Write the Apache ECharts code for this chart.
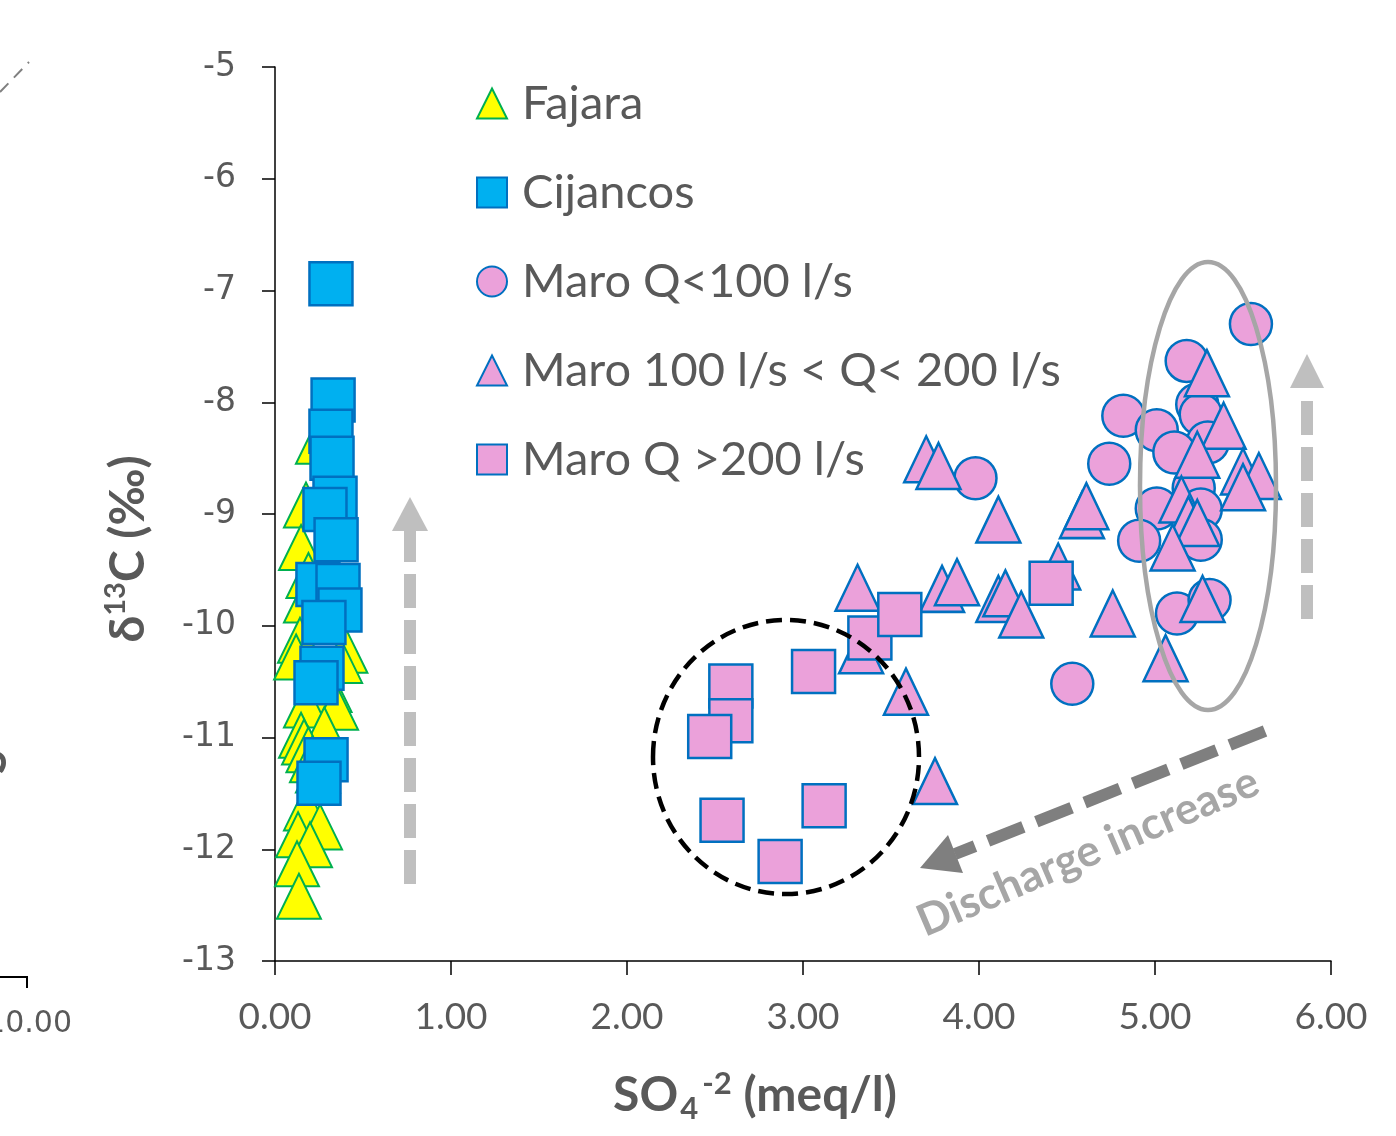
<!DOCTYPE html>
<html><head><meta charset="utf-8">
<script src="https://cdn.jsdelivr.net/npm/echarts/dist/echarts.min.js"></script>
<style>html,body{margin:0;padding:0;background:#fff}#c{width:1396px;height:1136px}</style>
</head><body><div id="c"></div>
<script>
// ---- data ----
const xTickLabels = ['0.00','1.00','2.00','3.00','4.00','5.00','6.00'];
const yTickLabels = ['-13','-12','-11','-10','-9','-8','-7','-6','-5'];

const fajaraX = [0.244,0.176,0.148,0.19,0.176,0.32,0.142,0.40,0.12,0.37,0.31,0.176,0.347,0.28,0.148,0.165,0.19,0.21,0.244,0.176,0.256,0.131,0.199,0.125,0.136];
const fajaraY = [-8.35,-8.92,-9.30,-9.55,-9.77,-9.77,-10.13,-10.22,-10.28,-10.31,-10.57,-10.71,-10.73,-10.93,-10.98,-11.04,-11.11,-11.20,-11.29,-11.63,-11.80,-11.87,-11.96,-12.13,-12.42];

const cijancosX = [0.318,0.330,0.318,0.324,0.341,0.284,0.347,0.244,0.358,0.369,0.278,0.267,0.233,0.290,0.250];
const cijancosY = [-6.94,-7.98,-8.26,-8.50,-8.86,-8.96,-9.23,-9.63,-9.64,-9.86,-9.97,-10.38,-10.51,-11.20,-11.41];

const maroLowX = [5.545,5.18,5.24,5.26,4.82,5.01,5.30,5.11,4.74,3.98,5.22,5.01,5.26,4.91,5.26,5.125,5.31,4.53];
const maroLowY = [-7.30,-7.63,-8.02,-8.11,-8.12,-8.25,-8.36,-8.45,-8.55,-8.68,-8.77,-8.95,-8.96,-9.24,-9.23,-9.89,-9.77,-10.52];

const maroMidX = [3.70,3.77,4.11,4.585,4.61,3.31,3.79,3.875,4.11,4.15,4.24,4.45,4.76,3.33,3.585,3.75,5.06,5.295,5.39,5.24,5.50,5.59,5.50,5.15,5.19,5.24,5.10,5.27];
const maroMidY = [-8.51,-8.57,-9.05,-9.01,-8.93,-9.66,-9.67,-9.61,-9.76,-9.71,-9.90,-9.47,-9.89,-10.22,-10.59,-11.39,-10.29,-7.74,-8.21,-8.47,-8.62,-8.66,-8.76,-8.87,-9.05,-9.08,-9.30,-9.76];

const maroHighX = [2.59,2.59,2.47,3.06,2.54,3.12,2.87,3.38,3.55,4.41];
const maroHighY = [-10.54,-10.85,-10.99,-10.41,-11.74,-11.61,-12.11,-10.11,-9.90,-9.62];

const seriesNames = ['Fajara','Cijancos','Maro Q<100 l/s','Maro 100 l/s < Q< 200 l/s','Maro Q >200 l/s'];

// ---- build ----
const zip = (xs, ys) => xs.map((x, i) => [x, ys[i]]);
const pink = '#EBA1DA', blueEdge = '#0070C0';
const chart = echarts.init(document.getElementById('c'), null, {renderer: 'canvas'});
const sans = 'Lato';

const option = {
  backgroundColor: '#ffffff',
  animation: false,
  grid: {left: 275, right: 65, top: 67, bottom: 175, containLabel: false, outerBoundsMode: 'none'},
  legend: {
    orient: 'vertical', left: 471, top: 75, itemWidth: 30, itemHeight: 30, itemGap: 42,
    selectedMode: false, data: seriesNames,
    textStyle: {fontFamily: sans, fontSize: 47, color: '#595959', lineHeight: 46, padding: [0,0,0,10]}
  },
  xAxis: {
    type: 'value', min: 0, max: 6, interval: 1,
    axisLine: {show: true, onZero: false, lineStyle: {color: '#000', width: 1.5}},
    axisTick: {show: true, length: 14, lineStyle: {color: '#000', width: 1.5}},
    axisLabel: {margin: 38, fontFamily: sans, fontSize: 37, color: '#595959',
      formatter: v => xTickLabels[Math.round(v)]},
    splitLine: {show: false}
  },
  yAxis: {
    type: 'value', min: -13, max: -5, interval: 1,
    axisLine: {show: true, onZero: false, lineStyle: {color: '#000', width: 1.5}},
    axisTick: {show: true, length: 13, lineStyle: {color: '#000', width: 1.5}},
    axisLabel: {margin: 39, fontFamily: 'DejaVu Sans', fontSize: 33, color: '#595959',
      formatter: v => yTickLabels[Math.round(v + 13)]},
    splitLine: {show: false}
  },
  series: [
    {name: seriesNames[0], type: 'scatter', symbol: 'triangle', symbolSize: [44, 45],
      data: zip(fajaraX, fajaraY), itemStyle: {color: '#FFFF00', borderColor: '#00B050', borderWidth: 2, opacity: 1}},
    {name: seriesNames[1], type: 'scatter', symbol: 'rect', symbolSize: 43,
      data: zip(cijancosX, cijancosY), itemStyle: {color: '#00B0F0', borderColor: blueEdge, borderWidth: 2.5, opacity: 1}},
    {name: seriesNames[2], type: 'scatter', symbol: 'circle', symbolSize: 42,
      data: zip(maroLowX, maroLowY), itemStyle: {color: pink, borderColor: blueEdge, borderWidth: 2.5, opacity: 1}},
    {name: seriesNames[3], type: 'scatter', symbol: 'triangle', symbolSize: [44, 46],
      data: zip(maroMidX, maroMidY), itemStyle: {color: pink, borderColor: blueEdge, borderWidth: 2.5, opacity: 1}},
    {name: seriesNames[4], type: 'scatter', symbol: 'rect', symbolSize: 43,
      data: zip(maroHighX, maroHighY), itemStyle: {color: pink, borderColor: blueEdge, borderWidth: 2.5, opacity: 1}}
  ],
  graphic: [
    // black dashed circle
    {type: 'ellipse', z: 100, shape: {cx: 786, cy: 757, rx: 133, ry: 137},
      style: {fill: 'none', stroke: '#000', lineWidth: 4.5, lineDash: [16, 8]}},
    // gray ellipse
    {type: 'ellipse', z: 100, shape: {cx: 1208, cy: 486, rx: 68, ry: 224},
      style: {fill: 'none', stroke: '#A6A6A6', lineWidth: 4.5}},
    // left vertical arrow
    {type: 'line', z: 100, shape: {x1: 410, y1: 884, x2: 410, y2: 530},
      style: {stroke: '#BFBFBF', lineWidth: 12, lineDash: [34, 12]}},
    {type: 'polygon', z: 100, shape: {points: [[410, 497], [392, 531], [428, 531]]}, style: {fill: '#BFBFBF'}},
    // right vertical arrow
    {type: 'line', z: 100, shape: {x1: 1307, y1: 619, x2: 1307, y2: 389},
      style: {stroke: '#BFBFBF', lineWidth: 12, lineDash: [34, 12]}},
    {type: 'polygon', z: 100, shape: {points: [[1307, 354], [1290, 388], [1324, 388]]}, style: {fill: '#BFBFBF'}},
    // discharge arrow
    {type: 'line', z: 100, shape: {x1: 1265, y1: 731, x2: 955, y2: 854},
      style: {stroke: '#7F7F7F', lineWidth: 12, lineDash: [38, 14]}},
    {type: 'polygon', z: 100, shape: {points: [[920, 868], [963, 873], [948, 835]]}, style: {fill: '#7F7F7F'}},
    {type: 'text', z: 100, x: 1088, y: 852, rotation: 0.405,
      style: {text: 'Discharge increase', fontFamily: sans, fontWeight: 'bold', fontSize: 44, fill: '#A6A6A6', align: 'center', verticalAlign: 'middle'}},
    // axis titles
    {type: 'text', z: 100, x: 755, y: 1096,
      style: {text: '{a|SO}{sub|4}{sup|-2}{a| (meq/l)}', align: 'center', verticalAlign: 'middle', fill: '#595959',
        rich: {
          a: {fontFamily: sans, fontWeight: 'bold', fontSize: 48, lineHeight: 56, fill: '#595959'},
          sub: {fontFamily: sans, fontWeight: 'bold', fontSize: 31, lineHeight: 31, verticalAlign: 'bottom', fill: '#595959', padding: [0, 4, 0, 2]},
          sup: {fontFamily: sans, fontWeight: 'bold', fontSize: 31, lineHeight: 31, verticalAlign: 'top', fill: '#595959'}
        }}},
    {type: 'text', z: 100, x: 129, y: 549, rotation: Math.PI / 2,
      style: {text: '{a|δ}{sup|13}{a|C (‰)}', align: 'center', verticalAlign: 'middle', fill: '#595959',
        rich: {
          a: {fontFamily: sans, fontWeight: 'bold', fontSize: 48, lineHeight: 56, fill: '#595959'},
          sup: {fontFamily: sans, fontWeight: 'bold', fontSize: 29, lineHeight: 31, verticalAlign: 'top', fill: '#595959'}
        }}},
    // fragments of the neighbouring panel at the left edge
    {type: 'line', z: 100, shape: {x1: 0, y1: 92, x2: 29, y2: 62},
      style: {stroke: '#808080', lineWidth: 2, lineDash: [12, 8]}},
    {type: 'polyline', z: 100, shape: {points: [[0, 977], [27, 977], [27, 988]]},
      style: {stroke: '#000', lineWidth: 2, fill: 'none'}},
    {type: 'text', z: 100, x: 72, y: 1024,
      style: {text: '10.00', fontFamily: 'DejaVu Sans', fontSize: 30, fill: '#595959', align: 'right', verticalAlign: 'middle'}},
    {type: 'text', z: 100, x: -8, y: 762, rotation: Math.PI / 2,
      style: {text: 'S', fontFamily: sans, fontWeight: 'bold', fontSize: 44, fill: '#595959', align: 'center', verticalAlign: 'middle'}}
  ]
};
chart.setOption(option);
</script>
</body></html>
